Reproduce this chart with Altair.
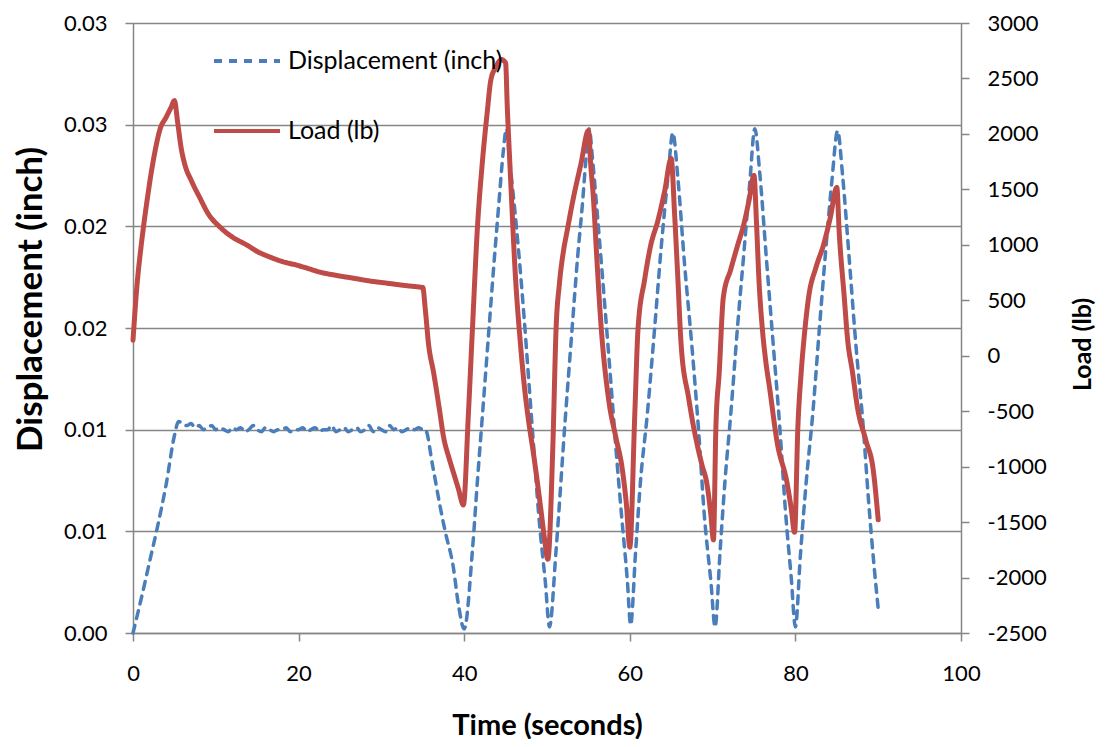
import altair as alt
import pandas as pd

# ---------------- data ----------------
series_names = ["Displacement (inch)", "Load (lb)"]
series_colors = ["#4A7EBB", "#BE4B48"]

disp_time = [
    0, 1, 2, 3, 4, 5,
    5.5, 6, 6.5, 7, 7.5, 8, 8.5, 9, 9.5, 10,
    10.5, 11, 11.5, 12, 12.5, 13, 13.5, 14, 14.5, 15,
    15.5, 16, 16.5, 17, 17.5, 18, 18.5, 19, 19.5, 20,
    20.5, 21, 21.5, 22, 22.5, 23, 23.5, 24, 24.5, 25,
    25.5, 26, 26.5, 27, 27.5, 28, 28.5, 29, 29.5, 30,
    30.5, 31, 31.5, 32, 32.5, 33, 33.5, 34, 34.5, 35,
    35.3, 36.2, 37.1, 37.7, 38.7, 39.3, 40.0,
    41.0, 41.6, 42.2, 43.0, 43.6, 44.2, 44.7, 45.1,
    45.5, 46.3, 47.2, 47.8, 48.4, 49.0, 49.8, 50.3,
    51.1, 52.2, 53.0, 53.7, 54.3, 54.7, 55.1,
    55.5, 56.2, 57.0, 57.7, 58.3, 59.0, 59.7, 60.1,
    60.7, 61.3, 62.1, 63.0, 63.8, 64.6, 65.2,
    65.8, 66.6, 67.5, 68.3, 69.0, 69.8, 70.3,
    70.9, 71.5, 72.2, 73.0, 73.8, 74.5, 75.1,
    75.7, 76.5, 77.3, 78.1, 78.8, 79.5, 80.0,
    80.6, 81.3, 82.1, 82.9, 83.7, 84.4, 85.1,
    85.7, 86.5, 87.3, 88.2, 88.8, 89.5, 90.0,
]
disp_value = [
    0.0000, 0.0017, 0.0035, 0.0053, 0.0073, 0.0097,
    0.0104, 0.0103, 0.0102, 0.0103, 0.0101, 0.0102, 0.0100, 0.0101, 0.0102, 0.0100,
    0.0101, 0.0100, 0.0099, 0.0101, 0.0100, 0.0101, 0.0099, 0.0100, 0.0102, 0.0100,
    0.0099, 0.0101, 0.0100, 0.0099, 0.0100, 0.0100, 0.0101, 0.0099, 0.0100, 0.0100,
    0.0101, 0.0099, 0.0100, 0.0101, 0.0099, 0.0100, 0.0100, 0.0102, 0.0099, 0.0100,
    0.0101, 0.0099, 0.0100, 0.0101, 0.0099, 0.0100, 0.0102, 0.0099, 0.0101, 0.0100,
    0.0099, 0.0102, 0.0100, 0.0101, 0.0099, 0.0100, 0.0101, 0.0100, 0.0101, 0.0100,
    0.0100, 0.0082, 0.0062, 0.0050, 0.0032, 0.0014, 0.0002,
    0.0041, 0.0075, 0.0107, 0.0150, 0.0182, 0.0212, 0.0236, 0.0248,
    0.0232, 0.0200, 0.0157, 0.0124, 0.0091, 0.0058, 0.0025, 0.0003,
    0.0041, 0.0105, 0.0148, 0.0185, 0.0212, 0.0233, 0.0248,
    0.0233, 0.0200, 0.0160, 0.0124, 0.0092, 0.0058, 0.0026, 0.0004,
    0.0040, 0.0075, 0.0107, 0.0150, 0.0190, 0.0224, 0.0246,
    0.0224, 0.0182, 0.0141, 0.0100, 0.0058, 0.0025, 0.0003,
    0.0040, 0.0075, 0.0108, 0.0150, 0.0188, 0.0222, 0.0248,
    0.0226, 0.0184, 0.0143, 0.0102, 0.0060, 0.0027, 0.0003,
    0.0038, 0.0074, 0.0108, 0.0150, 0.0190, 0.0222, 0.0247,
    0.0225, 0.0184, 0.0142, 0.0101, 0.0067, 0.0033, 0.0012,
]

load_time = [
    0, 0.5, 1.0, 1.7, 2.5, 3.3, 4.0, 4.6, 5.0, 5.4, 5.8, 6.2, 7.1, 8.1, 9.0,
    10.5, 12.0, 13.8, 15.0, 16.6, 18.0, 19.8, 21.0, 22.6, 24.5, 26.6, 28.5,
    30.7, 32.5, 34.7, 35.0, 35.3, 35.7, 36.3, 37.0, 37.5, 38.2, 38.7, 39.3, 39.9,
    40.5, 41.0, 41.6, 42.2, 42.8, 43.2, 43.8, 44.5, 45.0, 45.2, 45.6, 46.2,
    46.8, 47.3, 47.8, 48.4, 49.2, 49.7, 50.1,
    50.7, 51.1, 51.5, 52.0, 52.4, 53.2, 54.1, 55.0,
    55.3, 55.6, 56.0, 56.5, 57.5, 58.3, 59.1, 59.6, 60.0,
    60.6, 61.0, 61.8, 62.5, 63.4, 64.2, 65.0,
    65.4, 65.8, 66.2, 67.1, 67.7, 68.7, 69.3, 69.8, 70.1,
    70.4, 70.8, 71.3, 72.2, 73.0, 73.8, 74.4, 75.0,
    75.3, 75.6, 76.0, 76.4, 76.9, 77.8, 79.0, 79.5, 79.9,
    80.3, 80.7, 81.1, 81.6, 82.5, 83.4, 84.2, 85.0,
    85.3, 85.9, 86.3, 86.9, 87.5, 88.5, 89.4, 90.0,
]
load_value = [
    140, 650, 1000, 1400, 1780, 2050, 2150, 2240, 2300, 2100, 1880, 1740, 1570, 1420, 1290,
    1160, 1070, 996, 940, 888, 850, 816, 790, 753, 725, 699, 675,
    654, 636, 618, 615, 420, 100, -150, -480, -730, -930, -1053, -1200, -1345,
    -535, 250, 1158, 1751, 2209, 2479, 2600, 2670, 2640, 2250, 1600, 700,
    100, -300, -600, -900, -1350, -1650, -1835,
    -829, 250, 650, 950, 1113, 1427, 1730, 2029,
    1700, 1427, 900, 300, -424, -730, -1026, -1350, -1725,
    -532, 250, 690, 987, 1220, 1480, 1778,
    1292, 700, 100, -379, -640, -981, -1150, -1440, -1660,
    -640, -150, 529, 780, 990, 1194, 1400, 1625,
    1200, 681, 250, -37, -300, -783, -1150, -1380, -1592,
    -640, -150, 200, 529, 800, 1000, 1240, 1517,
    1100, 529, 150, -150, -470, -760, -1030, -1480,
]

x_ticks = [0, 20, 40, 60, 80, 100]
left_ticks = [0, 0.005, 0.01, 0.015, 0.02, 0.025, 0.03]
left_labels = ["0.00", "0.01", "0.01", "0.02", "0.02", "0.03", "0.03"]
right_ticks = [-2500, -2000, -1500, -1000, -500, 0, 500, 1000, 1500, 2000, 2500, 3000]

# ---------------- frames ----------------
disp_df = pd.DataFrame({"t": disp_time, "disp": disp_value, "series": series_names[0]})
load_df = pd.DataFrame({"t": load_time, "load": load_value, "series": series_names[1]})

FONT = "Lato"
GRID = "#868686"

left_label_expr = "[" + ",".join("'%s'" % s for s in left_labels) + "][round(datum.value/0.005)]"

legend = alt.Legend(
    orient="none", legendX=79, legendY=3, title=None,
    symbolType="stroke", symbolSize=4356, symbolStrokeWidth=4,
    labelFont=FONT, labelFontSize=25, labelColor="black", labelOffset=6,
    padding=0, rowPadding=22, labelLimit=400,
)

color_enc = alt.Color("series:N", scale=alt.Scale(domain=series_names, range=series_colors), legend=legend)
dash_enc = alt.StrokeDash("series:N", scale=alt.Scale(domain=series_names, range=[[8, 7], [1, 0]]), legend=legend)

x_axis = alt.Axis(
    values=x_ticks, grid=False, title="Time (seconds)", labelFlush=False, labelOverlap=False,
    labelFont=FONT, labelFontSize=22, labelColor="black", labelPadding=22,
    tickSize=8, tickColor=GRID, tickWidth=1.5, domainColor=GRID, domainWidth=1.5,
    titleFont=FONT, titleFontSize=29, titleFontWeight="bold", titleColor="black",
    titleX=414, titleY=101, titleAlign="center", titleBaseline="alphabetic",
)
x_enc = alt.X("t:Q", scale=alt.Scale(domain=[0, 100], nice=False, zero=False), axis=x_axis)

disp_line = alt.Chart(disp_df).mark_line(
    strokeWidth=3.5, strokeCap="round", strokeJoin="round", interpolate="monotone"
).encode(
    x=x_enc,
    y=alt.Y(
        "disp:Q",
        scale=alt.Scale(domain=[0, 0.03], nice=False, zero=False),
        axis=alt.Axis(
            values=left_ticks, labelExpr=left_label_expr, labelOverlap=False,
            grid=True, gridColor=GRID, gridWidth=1.5,
            domainColor=GRID, domainWidth=1.5, tickColor=GRID, tickWidth=1.5, tickSize=8,
            labelFont=FONT, labelFontSize=22, labelColor="black", labelPadding=18,
            title="Displacement (inch)", titleFont=FONT, titleFontSize=35,
            titleFontWeight="bold", titleColor="black",
            titleX=-103, titleY=276, titleAngle=270, titleAlign="center", titleBaseline="middle",
        ),
    ),
    color=color_enc,
    strokeDash=dash_enc,
)

load_line = alt.Chart(load_df).mark_line(
    strokeWidth=5, strokeCap="round", strokeJoin="round", interpolate="monotone"
).encode(
    x=x_enc,
    y=alt.Y(
        "load:Q",
        scale=alt.Scale(domain=[-2500, 3000], nice=False, zero=False),
        axis=alt.Axis(
            orient="right", values=right_ticks, labelExpr="datum.value + ''",
            labelOverlap=False, grid=False,
            domainColor=GRID, domainWidth=1.5, tickColor=GRID, tickWidth=1.5, tickSize=8,
            labelFont=FONT, labelFontSize=22, labelColor="black", labelPadding=18,
            title="Load (lb)", titleFont=FONT, titleFontSize=25,
            titleFontWeight="bold", titleColor="black",
            titleX=121, titleY=321, titleAngle=270, titleAlign="center", titleBaseline="middle",
        ),
    ),
    color=color_enc,
    strokeDash=dash_enc,
)

chart = alt.layer(disp_line, load_line).resolve_scale(y="independent").properties(
    width=828, height=610, autosize="none",
    padding={"left": 125, "top": 15, "right": 136, "bottom": 106},
).configure_view(stroke=None).configure(background="white")

chart.save("out.html", embed_options={"renderer": "svg", "actions": False})
